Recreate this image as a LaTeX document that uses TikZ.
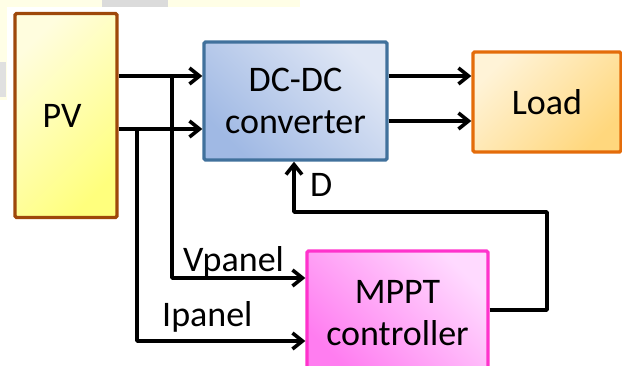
\documentclass[tikz,border=0pt]{standalone}
\usepackage{fontspec}
\setmainfont{Carlito}
\usetikzlibrary{arrows.meta,calc}
\begin{document}
\begin{tikzpicture}[x=1pt,y=-1pt,
  box/.style={draw, line width=3.3pt, rounded corners=1.5pt, align=center,
    font=\fontsize{36}{42}\selectfont, inner sep=0pt},
  wire/.style={line width=3.6pt, line join=round},
  arr/.style={wire, -{Straight Barb[length=10pt,width=16pt,line width=3.6pt]}},
  lbl/.style={font=\fontsize{36}{40}\selectfont, inner sep=0pt}]
\clip (0,0) rectangle (622,365);
\useasboundingbox (0,0) rectangle (622,365);
% faint strip along the upper and left edges
\fill[yellow!10] (0,0) rectangle (300,7);
\fill[black!14] (102,0) rectangle (168,7);
\fill[yellow!10] (0,0) rectangle (7,100);
\fill[black!12] (0,62) rectangle (6,97);
% blocks
\node[box, draw={rgb,255:red,158;green,72;blue,10},
  left color={rgb,255:red,255;green,253;blue,222},
  right color={rgb,255:red,255;green,255;blue,125}, shading angle=45,
  minimum width=102pt, minimum height=204pt] (PV) at (66,115.5) {PV\hspace{8pt}};
\node[box, draw={rgb,255:red,65;green,113;blue,156},
  left color={rgb,255:red,160;green,185;blue,228},
  right color={rgb,255:red,224;green,231;blue,245}, shading angle=135,
  minimum width=183pt, minimum height=118pt] (DC) at (295.5,101) {DC-DC\\converter};
\node[box, draw={rgb,255:red,228;green,108;blue,10},
  left color={rgb,255:red,255;green,243;blue,215},
  right color={rgb,255:red,255;green,215;blue,125}, shading angle=45,
  minimum width=148pt, minimum height=100pt] (LD) at (547,102) {Load};
\node[box, draw={rgb,255:red,255;green,51;blue,204},
  left color={rgb,255:red,255;green,125;blue,240},
  right color={rgb,255:red,255;green,218;blue,255}, shading angle=135,
  minimum width=181pt, minimum height=124pt] (MP) at (397.5,313) {MPPT\\controller};
% routing levels
\coordinate (r1) at (0,76);
\coordinate (r2) at (0,129);
\coordinate (r3) at (0,121);
\coordinate (tapV) at (172,76);
\coordinate (tapI) at (137,129);
\coordinate (vIn) at (0,278);
\coordinate (iIn) at (0,341);
\coordinate (fbOut) at (0,310);
\coordinate (fbR) at (547,212);
\coordinate (fbL) at (294,212);
% PV to converter
\draw[arr] (PV.east |- r1) -- (DC.west |- r1);
\draw[arr] (PV.east |- r2) -- (DC.west |- r2);
% converter to load
\draw[arr] (DC.east |- r1) -- (LD.west |- r1);
\draw[arr] (DC.east |- r3) -- (LD.west |- r3);
% measurements to MPPT
\draw[arr] (tapV) -- (tapV |- vIn) -- (MP.west |- vIn);
\draw[arr] (tapI) -- (tapI |- iIn) -- (MP.west |- iIn);
% duty cycle feedback
\draw[arr] (MP.east |- fbOut) -- (fbR |- fbOut) -- (fbR) -- (fbL) -- (fbL |- DC.south);
% labels
\node[lbl, anchor=base west] (lV) at (183,271) {Vpanel};
\node[lbl, anchor=base west] (lI) at (162,326) {Ipanel};
\node[lbl, anchor=base west] (lD) at (310,196) {D};
\end{tikzpicture}
\end{document}
